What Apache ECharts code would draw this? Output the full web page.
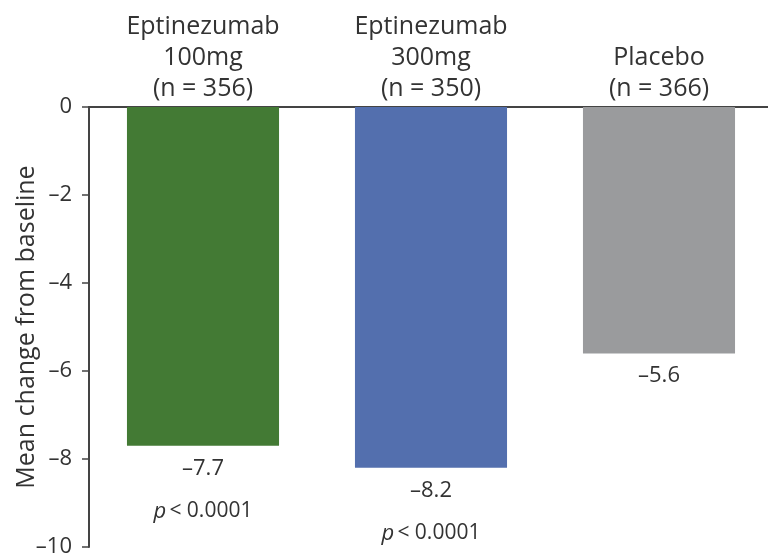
<!DOCTYPE html>
<html>
<head>
<meta charset="utf-8">
<script src="https://cdn.jsdelivr.net/npm/echarts@6/dist/echarts.min.js"></script>
<style>html,body{margin:0;padding:0;background:#fff}#c{width:768px;height:553px}</style>
</head>
<body>
<div id="c"></div>
<script>
const categories = ["Eptinezumab\n100mg\n(n = 356)", "Eptinezumab\n300mg\n(n = 350)", "Placebo\n(n = 366)"];
const values = [-7.7, -8.2, -5.6];
const pValues = ["< 0.0001", "< 0.0001", ""];
const colors = ["#437a34", "#536fae", "#9a9b9d"];
const yTicks = [0, -2, -4, -6, -8, -10];

const fmt = v => (v < 0 ? "\u2013" : "") + Math.abs(v);
const chart = echarts.init(document.getElementById('c'));
chart.setOption({
  animation: false,
  textStyle: { fontFamily: "Open Sans" },
  grid: { left: 89, width: 684, top: 107, bottom: 6, outerBoundsMode: 'none', containLabel: false },
  xAxis: {
    type: 'category', data: categories, position: 'top',
    axisLine: { lineStyle: { color: '#444', width: 2 } },
    axisTick: { inside: true, length: 7, lineStyle: { color: '#444', width: 1.5 } },
    axisLabel: { color: '#333', fontSize: 25, lineHeight: 31, margin: 3, interval: 0 }
  },
  yAxis: {
    type: 'value', min: -10, max: 0, interval: 2,
    name: 'Mean change from baseline', nameLocation: 'middle', nameGap: 50, nameMoveOverlap: false,
    nameTextStyle: { color: '#333', fontSize: 25 },
    axisLine: { show: true, lineStyle: { color: '#444', width: 2 } },
    axisTick: { show: true, length: 7, lineStyle: { color: '#444', width: 1.5 } },
    splitLine: { show: false },
    axisLabel: { color: '#333', fontSize: 22, margin: 17, formatter: v => fmt(v) }
  },
  series: [{
    type: 'bar', barWidth: '66.7%',
    data: values.map((v, i) => ({
      value: v, itemStyle: { color: colors[i] },
      label: {
        show: true, position: 'bottom', distance: 1,
        formatter: () => '{v|' + fmt(v) + '}' + (pValues[i] ? '\n{p|p} {q|' + pValues[i] + '}' : ''),
        rich: {
          v: { fontSize: 22, color: '#333', lineHeight: 43, fontFamily: 'Open Sans' },
          p: { fontSize: 22, color: '#333', fontStyle: 'italic', fontFamily: 'Open Sans', lineHeight: 43 },
          q: { fontSize: 21, color: '#333', fontFamily: 'Open Sans', lineHeight: 43 }
        }
      }
    }))
  }]
});
</script>
</body>
</html>
